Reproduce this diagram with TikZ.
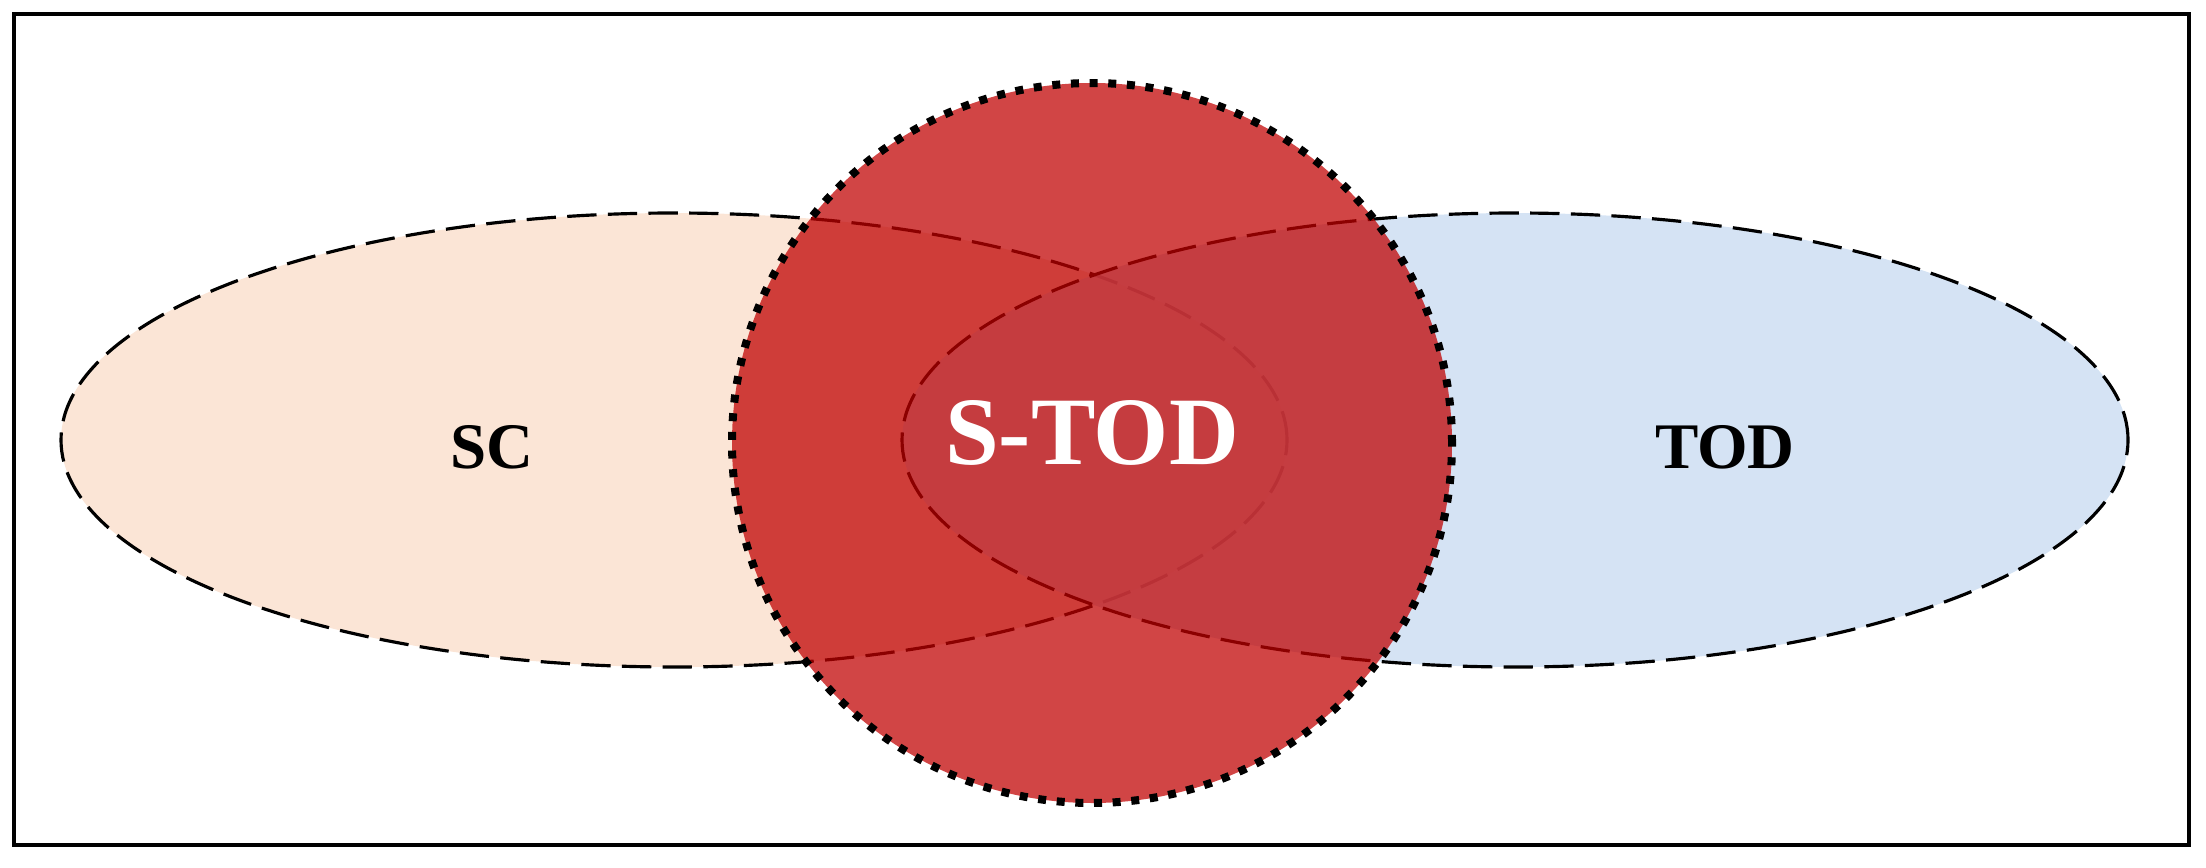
\documentclass[tikz,border=0pt]{standalone}
\usepackage{fontspec}
\setmainfont{Liberation Serif}
\usetikzlibrary{shapes.geometric}
\definecolor{scfill}{RGB}{251,229,214}
\definecolor{todfill}{RGB}{204,221,241}
\definecolor{stodred}{RGB}{192,0,0}
\tikzset{
  setell/.style={ellipse, draw=black, line width=0.95pt, dash pattern=on 8.8pt off 3.4pt, inner sep=0pt, minimum width=367.8pt, minimum height=136.2pt},
  bigcircle/.style={circle, fill=stodred, fill opacity=0.73, inner sep=0pt, minimum size=216pt},
  dotring/.style={circle, draw=black, line width=2.4pt, dash pattern=on 2.4pt off 3.2pt, inner sep=0pt, minimum size=216pt},
  lbl/.style={font=\fontsize{19.5}{22}\selectfont\bfseries, text=black, inner sep=0pt}
}
\begin{document}
\begin{tikzpicture}[x=0.3pt,y=-0.3pt]
\useasboundingbox (0,0) rectangle (2206,867);
\node[draw=black, line width=1.1pt, minimum width=652.5pt, minimum height=249.3pt, inner sep=0pt] (frame) at (1101.5,429.5) {};
\node[setell, fill=scfill] (sc) at (674,440) {};
\node[setell, fill=todfill, fill opacity=0.82] (tod) at (1515,440) {};
\node[bigcircle] (stod) at (1092,443) {};
\node[dotring] (ring) at (1092,443) {};
\node[lbl] (sclbl) at (492,447) {SC};
\node[lbl] (todlbl) at (1725,447) {TOD};
\node[lbl, text=white, font=\fontsize{29}{32}\selectfont\bfseries] (stodlbl) at (1092,433) {S-TOD};
\end{tikzpicture}
\end{document}
